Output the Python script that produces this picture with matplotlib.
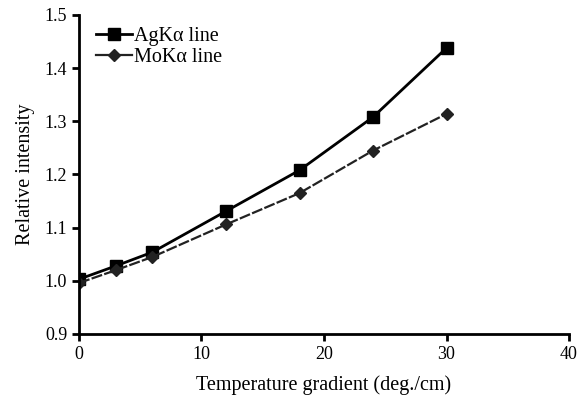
import matplotlib.pyplot as plt

plt.rcParams["font.family"] = ["Liberation Serif", "DejaVu Serif"]

gradient = [0, 3, 6, 12, 18, 24, 30]
agk_intensity = [1.003, 1.028, 1.054, 1.131, 1.208, 1.308, 1.438]
mok_intensity = [0.996, 1.020, 1.045, 1.106, 1.165, 1.245, 1.314]

x_ticks = [0, 10, 20, 30, 40]
y_ticks = [0.9, 1.0, 1.1, 1.2, 1.3, 1.4, 1.5]


def main():

    fig = plt.figure(figsize=(5.83, 4.0), dpi=100)
    ax = fig.add_axes([0.1355, 0.165, 0.8405, 0.7975])

    ax.plot(gradient, agk_intensity, color="black", marker="s",
            markersize=8, linewidth=2, label="AgKα line")
    ax.plot(gradient, mok_intensity, color="#222222", marker="D",
            markersize=6, linewidth=1.6, linestyle=(0, (5, 1)),
            label="MoKα line")

    ax.set_xlim(0, 40)
    ax.set_ylim(0.9, 1.5)
    ax.set_xticks(x_ticks)
    ax.set_yticks(y_ticks)
    ax.set_xticklabels([str(t) for t in x_ticks])
    ax.set_yticklabels([f"{t:.1f}" for t in y_ticks])

    ax.spines["top"].set_visible(False)
    ax.spines["right"].set_visible(False)
    ax.spines["left"].set_linewidth(2)
    ax.spines["bottom"].set_linewidth(2)
    ax.tick_params(direction="out", width=2, length=5, labelsize=13,
                   colors="black")

    ax.set_xlabel("Temperature gradient (deg./cm)", fontsize=14.5,
                  labelpad=9)
    ax.set_ylabel("Relative intensity", fontsize=14.5, labelpad=7)

    leg = ax.legend(loc="upper left", frameon=False, fontsize=14.5,
                    handlelength=1.8, handletextpad=0.1, labelspacing=0.1,
                    borderaxespad=0.2, bbox_to_anchor=(0.01, 1.0))
    leg.get_lines()[1].set_linestyle("-")

    fig.savefig("out.png", dpi=100)
    plt.close(fig)


if __name__ == "__main__":

    main()
